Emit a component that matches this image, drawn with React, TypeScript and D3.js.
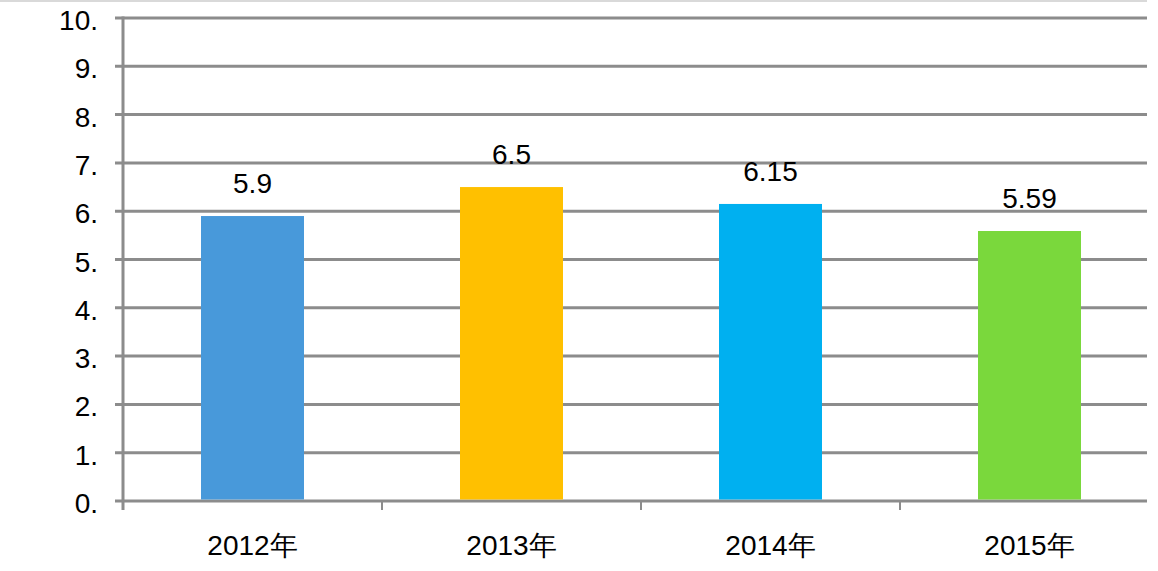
import React from "react";
import * as d3 from "d3";

const categories = ["2012年", "2013年", "2014年", "2015年"];
const values = [5.9, 6.5, 6.15, 5.59];
const valueLabels = ["5.9", "6.5", "6.15", "5.59"];
const barColors = ["#4899da", "#ffc000", "#00b0f0", "#7ad83c"];
const yTicks = [0, 1, 2, 3, 4, 5, 6, 7, 8, 9, 10];
const yTickLabels = ["0.", "1.", "2.", "3.", "4.", "5.", "6.", "7.", "8.", "9.", "10."];

const W = 1158;
const H = 571;
const FONT = "'Liberation Sans Narrow', 'Arial Narrow', 'Liberation Sans', sans-serif";

export default function App() {
  const left = 123;
  const gridRight = 1147;
  const x = d3.scaleBand<string>().domain(categories).range([left, left + 4 * 259]).paddingInner(0).paddingOuter(0);
  const y = d3.scaleLinear().domain([0, 10]).range([501, 18]);
  const barW = 103;

  return (
    <svg width={W} height={H} style={{ position: "absolute", left: 0, top: 0 }}>
      <rect x={0} y={0} width={W} height={H} fill="#fff" />
      <line x1={0} x2={gridRight} y1={1} y2={1} stroke="#d9d9d9" strokeWidth={2} />
      {yTicks.map((t, i) => (
        <g key={t}>
          <line x1={115} x2={gridRight} y1={y(t)} y2={y(t)} stroke="#8c8c8c" strokeWidth={3} />
          <text x={98} y={y(t) + 12} textAnchor="end" fontFamily={FONT} fontSize={28} fill="#000">
            {yTickLabels[i]}
          </text>
        </g>
      ))}
      <line x1={left} x2={left} y1={y(10) - 1.5} y2={510} stroke="#8c8c8c" strokeWidth={3} />
      {categories.slice(1).map((c) => (
        <line key={c} x1={x(c)!} x2={x(c)!} y1={y(0)} y2={510} stroke="#8c8c8c" strokeWidth={2} />
      ))}
      {categories.map((c, i) => {
        const cx = x(c)! + x.bandwidth() / 2;
        return (
          <g key={c}>
            <rect x={cx - barW / 2} y={y(values[i])} width={barW} height={y(0) - y(values[i]) - 1.5} fill={barColors[i]} />
            <text x={cx} y={y(values[i]) - 23} textAnchor="middle" fontFamily={FONT} fontSize={28} fill="#000">
              {valueLabels[i]}
            </text>
            <text x={cx} y={555} textAnchor="middle" fontFamily={FONT} fontSize={28} fill="#000">
              {c}
            </text>
          </g>
        );
      })}
    </svg>
  );
}
